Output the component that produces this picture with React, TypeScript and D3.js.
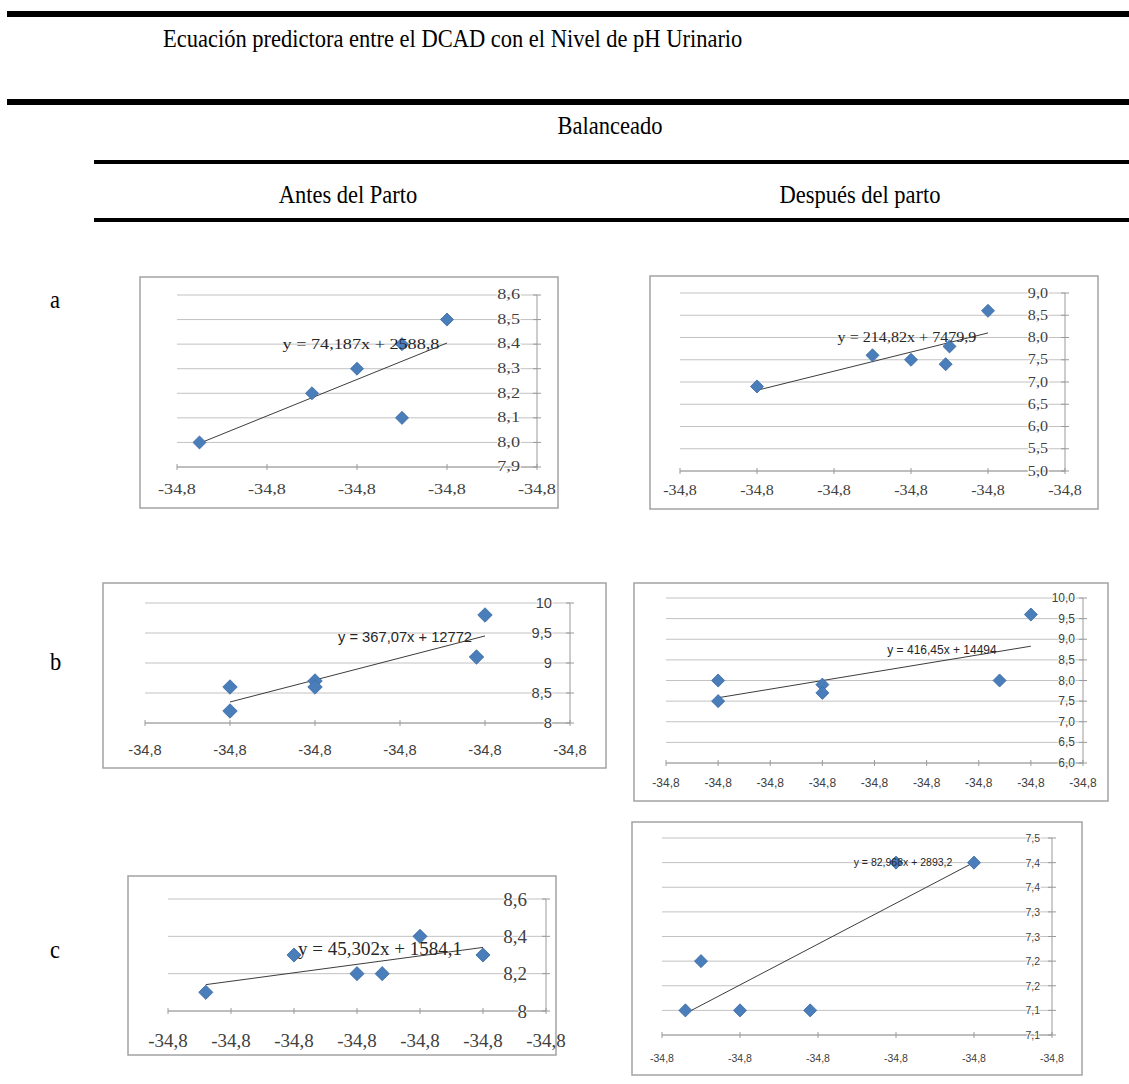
import React from 'react';
import * as d3 from 'd3';

// Header texts
const title = 'Ecuación predictora entre el DCAD con el Nivel de pH Urinario';
const groupLabel = 'Balanceado';
const columnLabels = ['Antes del Parto', 'Después del parto'];
const rowLabels = ['a', 'b', 'c'];

// a - antes del parto
const aLeftXTicks = [-34.788, -34.786, -34.784, -34.782, -34.78];
const aLeftYTicks = [7.9, 8.0, 8.1, 8.2, 8.3, 8.4, 8.5, 8.6];
const aLeftX = [-34.7875, -34.785, -34.784, -34.783, -34.783, -34.782];
const aLeftY = [8.0, 8.2, 8.3, 8.4, 8.1, 8.5];

// a - despues del parto
const aRightXTicks = [-34.79, -34.788, -34.786, -34.784, -34.782, -34.78];
const aRightYTicks = [5.0, 5.5, 6.0, 6.5, 7.0, 7.5, 8.0, 8.5, 9.0];
const aRightX = [-34.788, -34.785, -34.784, -34.7831, -34.783, -34.782];
const aRightY = [6.9, 7.6, 7.5, 7.4, 7.8, 8.6];

// b - antes del parto
const bLeftXTicks = [-34.773, -34.772, -34.771, -34.77, -34.769, -34.768];
const bLeftYTicks = [8, 8.5, 9, 9.5, 10];
const bLeftX = [-34.772, -34.772, -34.771, -34.771, -34.7691, -34.769];
const bLeftY = [8.6, 8.2, 8.7, 8.6, 9.1, 9.8];

// b - despues del parto
const bRightXTicks = [-34.786, -34.7855, -34.785, -34.7845, -34.784, -34.7835, -34.783, -34.7825, -34.782];
const bRightYTicks = [6.0, 6.5, 7.0, 7.5, 8.0, 8.5, 9.0, 9.5, 10.0];
const bRightX = [-34.7855, -34.7855, -34.7845, -34.7845, -34.7828, -34.7825];
const bRightY = [8.0, 7.5, 7.9, 7.7, 8.0, 9.6];

// c - antes del parto
const cLeftXTicks = [-34.789, -34.788, -34.787, -34.786, -34.785, -34.784, -34.783];
const cLeftYTicks = [8, 8.2, 8.4, 8.6];
const cLeftX = [-34.7884, -34.787, -34.786, -34.7856, -34.785, -34.784];
const cLeftY = [8.1, 8.3, 8.2, 8.2, 8.4, 8.3];

// c - despues del parto
const cRightXTicks = [-34.786, -34.785, -34.784, -34.783, -34.782, -34.781];
const cRightYTicks = [7.05, 7.1, 7.15, 7.2, 7.25, 7.3, 7.35, 7.4, 7.45];
const cRightX = [-34.7857, -34.7855, -34.785, -34.7841, -34.783, -34.782];
const cRightY = [7.1, 7.2, 7.1, 7.1, 7.4, 7.4];

const equations = [
  'y = 74,187x + 2588,8',
  'y = 214,82x + 7479,9',
  'y = 367,07x + 12772',
  'y = 416,45x + 14494',
  'y = 45,302x + 1584,1',
  'y = 82,968x + 2893,2',
];

const SERIF = '"Liberation Serif", "Times New Roman", serif';
const SANS = '"Liberation Sans", Arial, sans-serif';

const fmt1 = (v: number) => (Math.round(v * 10 + 1e-6) / 10).toFixed(1).replace('.', ',');
const fmtGeneral = (v: number) => {
  const r = Math.round(v * 10 + 1e-6) / 10;
  return Number.isInteger(r) ? String(r) : r.toFixed(1).replace('.', ',');
};

const charts = [
  {
    xs: aLeftX, ys: aLeftY, xTicks: aLeftXTicks, yTicks: aLeftYTicks, yFmt: fmt1, eq: equations[0],
    box: [140, 277, 558, 508], xRange: [177, 537], yRange: [467, 295],
    yLabelX: 520, xLabelY: 490, font: SERIF, size: 14, stretch: 1.3, eqPos: [361, 345], eqSize: 14, marker: 85,
  },
  {
    xs: aRightX, ys: aRightY, xTicks: aRightXTicks, yTicks: aRightYTicks, yFmt: fmt1, eq: equations[1],
    box: [650, 276, 1098, 509], xRange: [680, 1065], yRange: [471, 293],
    yLabelX: 1048, xLabelY: 490, font: SERIF, size: 14, stretch: 1.15, eqPos: [907, 337], eqSize: 14, marker: 85,
  },
  {
    xs: bLeftX, ys: bLeftY, xTicks: bLeftXTicks, yTicks: bLeftYTicks, yFmt: fmtGeneral, eq: equations[2],
    box: [103, 583, 606, 768], xRange: [145, 570], yRange: [723, 603],
    yLabelX: 552, xLabelY: 750, font: SANS, size: 14, stretch: 1.05, eqPos: [405, 637], eqSize: 14, marker: 105,
  },
  {
    xs: bRightX, ys: bRightY, xTicks: bRightXTicks, yTicks: bRightYTicks, yFmt: fmt1, eq: equations[3],
    box: [634, 583, 1108, 801], xRange: [666, 1083], yRange: [763, 598],
    yLabelX: 1075, xLabelY: 783, font: SANS, size: 12, stretch: 1, eqPos: [942, 650], eqSize: 12, marker: 85,
  },
  {
    xs: cLeftX, ys: cLeftY, xTicks: cLeftXTicks, yTicks: cLeftYTicks, yFmt: fmtGeneral, eq: equations[4],
    box: [128, 876, 556, 1055], xRange: [168, 546], yRange: [1011, 899],
    yLabelX: 527, xLabelY: 1040, font: SERIF, size: 19, stretch: 1, eqPos: [380, 948], eqSize: 19, marker: 100,
  },
  {
    xs: cRightX, ys: cRightY, xTicks: cRightXTicks, yTicks: cRightYTicks, yFmt: fmt1, eq: equations[5],
    box: [632, 822, 1082, 1075], xRange: [662, 1052], yRange: [1035, 838],
    yLabelX: 1040, xLabelY: 1058, font: SANS, size: 10.5, stretch: 1, eqPos: [903, 862], eqSize: 10.5, marker: 85,
  },
];

const STX = (x: number, y: number, s: number) => `translate(${x},${y}) scale(${s},1)`;

function Scatter({ c }: { c: any }) {
  const x = d3.scaleLinear().domain([c.xTicks[0], c.xTicks[c.xTicks.length - 1]]).range(c.xRange);
  const y = d3.scaleLinear().domain([c.yTicks[0], c.yTicks[c.yTicks.length - 1]]).range(c.yRange);
  const [bx0, by0, bx1, by1] = c.box;
  const axisX = c.xRange[1];
  const axisY = c.yRange[0];

  // linear trendline (least squares), drawn between min and max x
  const mx = d3.mean(c.xs) as number;
  const my = d3.mean(c.ys) as number;
  const sxy = d3.sum(c.xs, (v: number, i: number) => (v - mx) * (c.ys[i] - my));
  const sxx = d3.sum(c.xs, (v: number) => (v - mx) ** 2);
  const slope = sxy / sxx;
  const [x0, x1] = d3.extent(c.xs) as [number, number];
  const trend = d3.line<number>().x((v) => x(v)).y((v) => y(my + slope * (v - mx)))([x0, x1]);

  const diamond = d3.symbol(d3.symbolSquare, c.marker)();

  return (
    <g>
      <rect x={bx0} y={by0} width={bx1 - bx0} height={by1 - by0} fill="#fff" stroke="#a3a3a3" strokeWidth={1.5} />
      {c.yTicks.map((t: number) => (
        <line key={'g' + t} x1={c.xRange[0]} x2={axisX} y1={y(t)} y2={y(t)} stroke="#c2c2c2" strokeWidth={1} />
      ))}
      <line x1={c.xRange[0]} x2={axisX} y1={axisY} y2={axisY} stroke="#9a9a9a" strokeWidth={1} />
      <line x1={axisX} x2={axisX} y1={c.yRange[0]} y2={c.yRange[1]} stroke="#9a9a9a" strokeWidth={1} />
      {c.xTicks.map((t: number, i: number) => (
        <line key={'xt' + i} x1={x(t)} x2={x(t)} y1={axisY - 3} y2={axisY + 3} stroke="#9a9a9a" />
      ))}
      {c.yTicks.map((t: number) => (
        <line key={'yt' + t} x1={axisX - 4} x2={axisX + 4} y1={y(t)} y2={y(t)} stroke="#9a9a9a" />
      ))}
      <g fontFamily={c.font} fontSize={c.size} fill="#404040">
        {c.yTicks.map((t: number) => (
          <text key={'yl' + t} transform={STX(c.yLabelX, y(t), c.stretch)} textAnchor="end" dominantBaseline="central"
            stroke="#fff" strokeWidth={2} paintOrder="stroke">
            {c.yFmt(t)}
          </text>
        ))}
        {c.xTicks.map((t: number, i: number) => (
          <text key={'xl' + i} transform={STX(x(t), c.xLabelY, c.stretch)} textAnchor="middle" dominantBaseline="central">
            {fmt1(t)}
          </text>
        ))}
      </g>
      <path d={trend ?? ''} stroke="#3c3c3c" strokeWidth={1} fill="none" />
      {c.xs.map((v: number, i: number) => (
        <path key={'p' + i} d={diamond ?? ''} transform={`translate(${x(v)},${y(c.ys[i])}) rotate(45)`}
          fill="#4a7ebb" stroke="#3d6ca3" strokeWidth={0.8} />
      ))}
      <text transform={STX(c.eqPos[0], c.eqPos[1], c.stretch)} textAnchor="middle" dominantBaseline="central"
        fontFamily={c.font} fontSize={c.eqSize} fill="#262626">
        {c.eq}
      </text>
    </g>
  );
}

// header text, slightly condensed like the source document
function HText({ x, y, anchor, children }: { x: number; y: number; anchor: string; children: React.ReactNode }) {
  return (
    <text transform={`translate(${x},${y}) scale(0.9,1)`} fontFamily={SERIF} fontSize={25} textAnchor={anchor}>
      {children}
    </text>
  );
}

export default function App() {
  const rowY = [308, 670, 958];
  return (
    <div style={{ position: 'absolute', left: 0, top: 0 }}>
      <svg width={1129} height={1084} style={{ display: 'block', background: '#fff' }}>
        <rect x={7} y={11} width={1122} height={6} fill="#000" />
        <HText x={163} y={47} anchor="start">{title}</HText>
        <rect x={7} y={99} width={1122} height={6} fill="#000" />
        <HText x={610} y={134} anchor="middle">{groupLabel}</HText>
        <rect x={94} y={160} width={1035} height={4} fill="#000" />
        <HText x={348} y={203} anchor="middle">{columnLabels[0]}</HText>
        <HText x={860} y={203} anchor="middle">{columnLabels[1]}</HText>
        <rect x={94} y={218} width={1035} height={4} fill="#000" />
        {rowLabels.map((r, i) => (
          <HText key={r} x={50} y={rowY[i]} anchor="start">{r}</HText>
        ))}
        {charts.map((c, i) => (
          <Scatter key={i} c={c} />
        ))}
      </svg>
    </div>
  );
}
